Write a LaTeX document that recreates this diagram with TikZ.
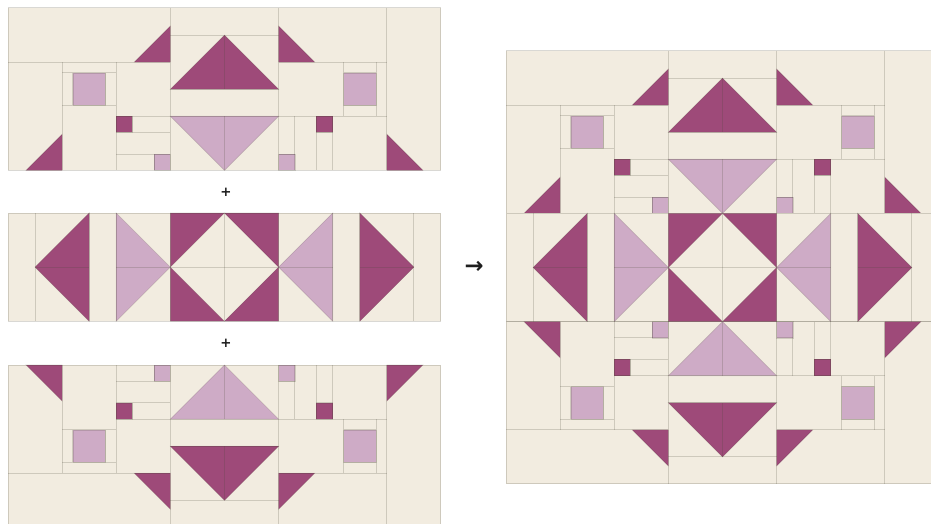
\documentclass[tikz,border=0pt]{standalone}
\usepackage{fontspec}
\newfontfamily\djv{DejaVu Sans}
\definecolor{qcream}{HTML}{F2ECE0}
\definecolor{qdark}{HTML}{9E4A79}
\definecolor{qlight}{HTML}{CEABC6}
\definecolor{qseam}{HTML}{4C4838}
\definecolor{qtext}{HTML}{1E1E1E}
\tikzset{
  seam/.style={draw=qseam, draw opacity=0.21, line width=0.75pt},
  dk/.style={fill=qdark, draw=qseam, draw opacity=0.2, line width=0.5pt},
  lt/.style={fill=qlight, draw=qseam, draw opacity=0.2, line width=0.5pt},
  sign/.style={text=qtext, inner sep=0pt},
}
% top strip, quilt units, y down (0..48 x 0..18)
\newcommand{\qtopstrip}{%
  \fill[qcream] (0,0) rectangle (48,18);
  % dark triangles
  \path[dk] (14,6) -- (18,6) -- (18,2) -- cycle;
  \path[dk] (2,18) -- (6,18) -- (6,14) -- cycle;
  \path[dk] (30,2) -- (30,6) -- (34,6) -- cycle;
  \path[dk] (42,14) -- (42,18) -- (46,18) -- cycle;
  \path[dk] (18,9) -- (30,9) -- (24,3) -- cycle;
  % light triangle
  \path[lt] (18,12) -- (30,12) -- (24,18) -- cycle;
  % squares
  \path[lt] (7.2,7.2) rectangle (10.8,10.8);
  \path[lt] (37.2,7.2) rectangle (40.8,10.8);
  \path[lt] (16.2,16.2) rectangle (18,18);
  \path[lt] (30,16.2) rectangle (31.8,18);
  \path[dk] (12,12) rectangle (13.8,13.8);
  \path[dk] (34.2,12) rectangle (36,13.8);
  % seams
  \draw[seam] (0,0) rectangle (48,18);
  \draw[seam] (18,0) -- (18,18) (30,0) -- (30,18) (42,0) -- (42,18)
    (6,6) -- (6,18) (12,6) -- (12,18)
    (24,3) -- (24,9) (24,12) -- (24,18)
    (37.2,6) -- (37.2,12) (40.8,6) -- (40.8,12)
    (31.8,12) -- (31.8,18) (34.2,12) -- (34.2,18) (36,12) -- (36,18)
    (16.2,16.2) -- (16.2,18) (13.8,12) -- (13.8,13.8)
    (7.2,7.2) -- (7.2,10.8) (10.8,7.2) -- (10.8,10.8);
  \draw[seam] (0,6) -- (18,6) (30,6) -- (42,6)
    (18,3) -- (30,3) (18,9) -- (30,9) (12,12) -- (42,12)
    (6,7.2) -- (12,7.2) (6,10.8) -- (12,10.8)
    (37.2,7.2) -- (40.8,7.2) (37.2,10.8) -- (40.8,10.8)
    (12,13.8) -- (18,13.8) (12,16.2) -- (18,16.2)
    (30,16.2) -- (31.8,16.2) (34.2,13.8) -- (36,13.8);
}
% middle strip, quilt units (0..48 x 18..30)
\newcommand{\qmidstrip}{%
  \fill[qcream] (0,18) rectangle (48,30);
  \path[dk] (3,24) -- (9,18) -- (9,30) -- cycle;
  \path[dk] (39,18) -- (39,30) -- (45,24) -- cycle;
  \path[dk] (18,18) -- (24,18) -- (18,24) -- cycle;
  \path[dk] (18,24) -- (18,30) -- (24,30) -- cycle;
  \path[dk] (24,18) -- (30,18) -- (30,24) -- cycle;
  \path[dk] (30,24) -- (30,30) -- (24,30) -- cycle;
  \path[lt] (12,18) -- (12,30) -- (18,24) -- cycle;
  \path[lt] (36,18) -- (36,30) -- (30,24) -- cycle;
  \draw[seam] (0,18) rectangle (48,30);
  \foreach \q in {3,9,12,18,24,30,36,39,45} {\draw[seam] (\q,18) -- (\q,30);}
  \draw[seam] (3,24) -- (9,24) (12,24) -- (36,24) (39,24) -- (45,24);
}
\newcommand{\qbotstrip}{%
  \begin{scope}[yshift=-324.72pt, yscale=-1]
    \qtopstrip
  \end{scope}%
}
\begin{document}
\begin{tikzpicture}[x=0.75pt, y=-0.75pt]
\useasboundingbox (0,0) rectangle (931,524);
\fill[white] (0,0) rectangle (931,524);
\clip (0,0) rectangle (931,524);
% left: three strips
\begin{scope}[shift={(6pt,-6pt)}, x=6.765pt, y=-6.765pt]
  \qtopstrip
\end{scope}
\begin{scope}[shift={(6pt,-37.98pt)}, x=6.765pt, y=-6.765pt]
  \qmidstrip
\end{scope}
\begin{scope}[shift={(6pt,-70.8pt)}, x=6.765pt, y=-6.765pt]
  \qbotstrip
\end{scope}
% right: assembled quilt
\begin{scope}[shift={(379.5pt,-38.25pt)}, x=6.765pt, y=-6.765pt]
  \qtopstrip
  \qmidstrip
  \qbotstrip
\end{scope}
% signs
\node[sign, font=\djv\fontsize{10}{10}\selectfont\bfseries] (plusa) at (226,192) {+};
\node[sign, font=\djv\fontsize{10}{10}\selectfont\bfseries] (plusb) at (226,343) {+};
\node[sign, font=\djv\fontsize{17}{17}\selectfont\bfseries] (arr) at (474,267) {→};
\end{tikzpicture}
\end{document}
